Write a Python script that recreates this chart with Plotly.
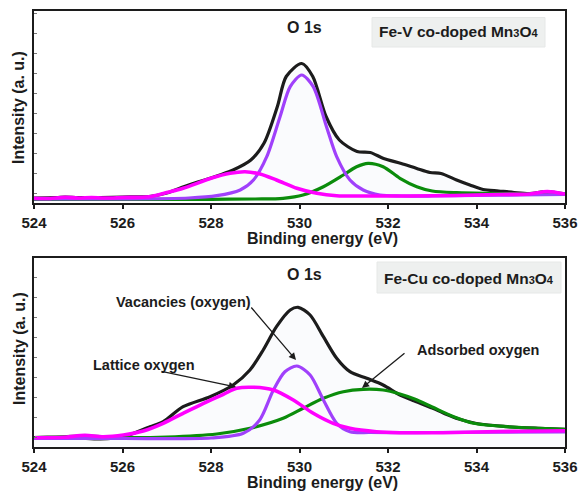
import plotly.graph_objects as go

# ---------------- data ----------------
# Top panel: Fe-V co-doped Mn3O4
top_black_x = [524.0, 524.5, 524.7, 525.0, 525.5, 526.0, 526.6, 527.0, 527.4, 527.7, 528.0, 528.2, 528.5, 528.9,
               529.2, 529.5, 529.7, 530.05, 530.3, 530.6, 530.9, 531.3, 531.6, 531.9, 532.3, 532.65, 532.95,
               533.2, 533.55, 533.85, 534.15, 534.5, 534.85, 535.2, 535.6, 536.0]
top_black_y = [4.5, 5, 5.5, 5, 5, 5.5, 6, 9.5, 16, 20.5, 24.5, 27.5, 32.5, 42.5,
               59.5, 96, 126, 139, 126, 86, 62.5, 51, 50, 44, 39, 34, 30,
               29, 22.5, 17.5, 13, 11.5, 10, 9, 11, 8.5]

top_purple_x = [524.0, 526.0, 527.5, 528.13, 528.66, 528.96, 529.26, 529.56, 529.79, 530.05, 530.31, 530.61,
                530.84, 531.14, 531.44, 531.82, 532.3, 533.0, 534.0, 535.0, 536.0]
top_purple_y = [3.5, 3.5, 4.5, 6.8, 12.5, 22.5, 45.8, 85.8, 115.8, 127.5, 115.8, 75.8,
                45.8, 22.5, 12.5, 7.5, 6.5, 6.5, 7, 7.5, 8]

top_magenta_x = [524.0, 524.3, 524.7, 525.0, 525.3, 525.6, 526.0, 526.6, 527.0, 527.37, 528.0, 528.43, 528.77,
                 529.11, 529.48, 529.94, 530.39, 530.84, 531.5, 532.5, 533.5, 534.5, 535.2, 535.6, 536.0]
top_magenta_y = [4.2, 4, 5.2, 4.5, 5, 4.5, 5, 5.8, 10, 14.2, 24.2, 29.2, 30.8,
                 28.5, 22.5, 14.2, 9.2, 6.8, 6.5, 6.5, 7, 8, 8.5, 11, 8.5]

top_green_x = [524.0, 526.0, 528.0, 529.0, 529.63, 530.08, 530.54, 530.99, 531.29, 531.55, 531.89, 532.27,
               532.65, 533.0, 533.55, 534.5, 536.0]
top_green_y = [3, 3.2, 3.2, 3.5, 4.2, 7.5, 15.8, 27.5, 35.8, 39.2, 35.8, 24.2,
               15.8, 11.5, 9.8, 9, 8.5]

# Bottom panel: Fe-Cu co-doped Mn3O4
bot_black_x = [524.0, 524.5, 525.0, 525.5, 526.0, 526.62, 526.92, 527.37, 527.98, 528.5, 528.88, 529.18, 529.48,
               529.79, 529.97, 530.24, 530.54, 530.84, 531.14, 531.52, 531.89, 532.27, 532.6, 533.0, 533.3,
               533.6, 534.0, 534.7, 535.4, 536.0]
bot_black_y = [9.2, 9.2, 8.7, 7.7, 9.7, 20, 25, 40, 50, 61.7, 76.7, 96.7, 120,
               136.7, 139.4, 131.7, 110, 88.4, 75, 68.4, 61.7, 51.7, 45.7, 38.7, 32.7,
               27.7, 23.2, 20, 18.4, 17.4]

bot_purple_x = [524.0, 526.0, 528.0, 528.73, 529.1, 529.41, 529.67, 529.94, 530.24, 530.54, 530.84, 531.14,
                531.6, 533.0, 536.0]
bot_purple_y = [8.2, 8.2, 8.7, 13.4, 26.7, 56.7, 75, 80.7, 71.7, 46.7, 23.4, 15,
                14.2, 14.2, 14.7]

bot_magenta_x = [524.02, 524.66, 525.15, 525.57, 526.02, 526.47, 526.92, 527.37, 527.83, 528.28, 528.58, 528.96,
                 529.41, 529.86, 530.31, 530.76, 531.14, 531.74, 532.27, 533.5, 534.5, 535.5, 536.0]
bot_magenta_y = [9, 9.4, 11.4, 10, 11.7, 15.7, 23.4, 33.4, 43.4, 52.4, 58.4, 59.4,
                 56.7, 46.7, 33.4, 23.4, 18.4, 15, 14, 14.2, 15.2, 15.7, 16]

bot_green_x = [524.0, 525.2, 526.0, 527.0, 528.13, 528.88, 529.63, 530.08, 530.54, 530.99, 531.44, 531.89,
               532.27, 532.6, 533.0, 533.5, 533.93, 534.68, 535.43, 536.0]
bot_green_y = [9, 10.7, 9.2, 9.7, 12.7, 18.4, 28.4, 38.4, 48.4, 55, 57.4, 56.7,
               52.7, 47.7, 39.7, 29.7, 23.4, 20, 18.4, 17.4]

x_ticks = [524, 526, 528, 530, 532, 534, 536]
x_tick_labels = ["524", "526", "528", "530", "532", "534", "536"]

# ---------------- styling ----------------
W, H = 581, 493
FONT = "Arial, 'Liberation Sans', sans-serif"
BLACK = "#1c1c1c"
PURPLE = "#a040fb"
MAGENTA = "#ff00ff"
GREEN = "#0b8c0b"
FILL = "rgba(232,236,246,0.22)"


def px(xp):
    return xp / W


def py(yp):
    return 1 - yp / H


fig = go.Figure()


def add_panel(xa, ya, bx, by, purx, pury, gx, gy, mx, my):
    fig.add_trace(go.Scatter(x=bx, y=by, mode="lines", line=dict(color=BLACK, width=3.2, shape="spline", smoothing=0.8),
                             fill="tozeroy", fillcolor=FILL, xaxis=xa, yaxis=ya, showlegend=False, hoverinfo="skip"))
    fig.add_trace(go.Scatter(x=gx, y=gy, mode="lines", line=dict(color=GREEN, width=3.2, shape="spline", smoothing=0.8),
                             xaxis=xa, yaxis=ya, showlegend=False, hoverinfo="skip"))
    fig.add_trace(go.Scatter(x=purx, y=pury, mode="lines", line=dict(color=PURPLE, width=3.2, shape="spline", smoothing=0.8),
                             xaxis=xa, yaxis=ya, showlegend=False, hoverinfo="skip"))
    fig.add_trace(go.Scatter(x=mx, y=my, mode="lines", line=dict(color=MAGENTA, width=3.6, shape="spline", smoothing=0.8),
                             xaxis=xa, yaxis=ya, showlegend=False, hoverinfo="skip"))


add_panel("x", "y", top_black_x, top_black_y, top_purple_x, top_purple_y,
          top_green_x, top_green_y, top_magenta_x, top_magenta_y)
add_panel("x2", "y2", bot_black_x, bot_black_y, bot_purple_x, bot_purple_y,
          bot_green_x, bot_green_y, bot_magenta_x, bot_magenta_y)

xdom = [34 / W, 565 / W]
xaxis_common = dict(range=[524, 536], domain=xdom, showline=True, linecolor=BLACK, linewidth=1.5, mirror=True,
                    ticks="outside", ticklen=5, tickwidth=1.5, tickcolor=BLACK, automargin=False,
                    tickvals=x_ticks, ticktext=x_tick_labels, showgrid=False, zeroline=False,
                    tickfont=dict(family=FONT, size=15, color=BLACK, weight="bold"), ticklabelstandoff=1)
yaxis_common = dict(showline=True, linecolor=BLACK, linewidth=1.5, mirror=True, showgrid=False, zeroline=False,
                    ticks="inside", ticklen=3, tickwidth=1, tickcolor="#777777", showticklabels=False,
                    tick0=9.5, dtick=20, automargin=False)

fig.update_layout(
    width=W, height=H, autosize=False,
    margin=dict(l=0, r=0, t=0, b=0, pad=0),
    paper_bgcolor="white", plot_bgcolor="white",
    xaxis=dict(anchor="y", **xaxis_common),
    yaxis=dict(anchor="x", domain=[py(202.5), py(11)], range=[0, 191.5], **yaxis_common),
    xaxis2=dict(anchor="y2", **xaxis_common),
    yaxis2=dict(anchor="x2", domain=[py(446.7), py(257.5)], range=[0, 189.2], **yaxis_common),
    font=dict(family=FONT, color=BLACK),
)

# label boxes
fig.add_shape(type="rect", xref="paper", yref="paper", x0=px(372), x1=px(545), y0=py(47), y1=py(17.5),
              fillcolor="#eef0ef", line=dict(color="#e6e8e7", width=1), layer="above")
fig.add_shape(type="rect", xref="paper", yref="paper", x0=px(377), x1=px(561), y0=py(293), y1=py(262),
              fillcolor="#eef0ef", line=dict(color="#e6e8e7", width=1), layer="above")

sub = "<span style='font-size:11px'>{}</span>"
annots = []


def text(x, y, s, size=16, angle=0):
    annots.append(dict(x=px(x), y=py(y), xref="paper", yref="paper", text=s, showarrow=False,
                       font=dict(family=FONT, size=size, color=BLACK), textangle=angle,
                       xanchor="center", yanchor="middle"))


text(459, 31, "<b>Fe-V co-doped Mn" + sub.format("3") + "O" + sub.format("4") + "</b>", 15.5)
text(469, 278, "<b>Fe-Cu co-doped Mn" + sub.format("3") + "O" + sub.format("4") + "</b>", 15.5)
text(304, 28, "<b>O 1s</b>", 16)
text(304, 274, "<b>O 1s</b>", 16)
text(322, 239, "<b>Binding energy (eV)</b>", 16)
text(322, 482, "<b>Binding energy (eV)</b>", 16)
text(19, 108, "<b>Intensity (a. u.)</b>", 16, -90)
text(19, 349, "<b>Intensity (a. u.)</b>", 16, -90)
text(183.5, 301.5, "<b>Vacancies (oxygen)</b>", 14.5)
text(143.5, 364.5, "<b>Lattice oxygen</b>", 14.5)
text(477.5, 349.5, "<b>Adsorbed oxygen</b>", 14.5)


def arrow(tail, head):
    annots.append(dict(x=px(head[0]), y=py(head[1]), xref="paper", yref="paper", text="",
                       showarrow=True, ax=tail[0] - head[0], ay=tail[1] - head[1],
                       arrowhead=2, arrowsize=1.1, arrowwidth=1.3, arrowcolor=BLACK))


arrow((250, 306), (296, 360))
arrow((160, 371), (236, 387))
arrow((406, 352), (362, 388))

fig.update_layout(annotations=annots)

fig.write_html("out.html", config={"displayModeBar": False},
               post_script="document.body.style.margin='0px';document.body.style.padding='0px';")
